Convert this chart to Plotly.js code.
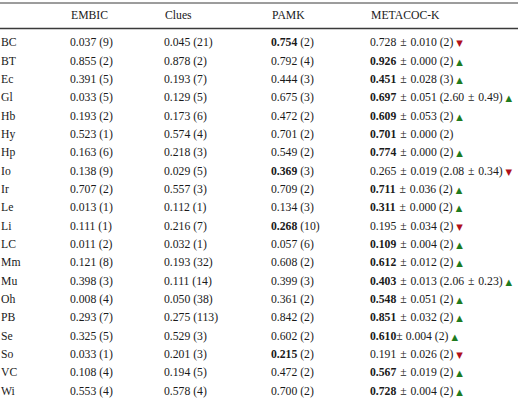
<!DOCTYPE html>
<html>
<head>
<meta charset="utf-8">
<script src="https://cdn.plot.ly/plotly-3.0.1.min.js"></script>
<style>html,body{margin:0;padding:0;background:#fff;}#chart{width:520px;height:406px;}</style>
</head>
<body>
<div id="chart"></div>
<script>
var columns = ['', 'EMBIC', 'Clues', 'PAMK', 'METACOC-K'];
var datasets = ['BC','BT','Ec','Gl','Hb','Hy','Hp','Io','Ir','Le','Li','LC','Mm','Mu','Oh','PB','Se','So','VC','Wi'];
var embic = ['0.037','0.855','0.391','0.033','0.193','0.523','0.163','0.138','0.707','0.013','0.111','0.011','0.121','0.398','0.008','0.293','0.325','0.033','0.108','0.553'];
var embicK = ['9','2','5','5','2','1','6','9','2','1','1','2','8','3','4','7','5','1','4','4'];
var clues = ['0.045','0.878','0.193','0.129','0.173','0.574','0.218','0.029','0.557','0.112','0.216','0.032','0.193','0.111','0.050','0.275','0.529','0.201','0.194','0.578'];
var cluesK = ['21','2','7','5','6','4','3','5','3','1','7','1','32','14','38','113','3','3','5','4'];
var pamk = ['0.754','0.792','0.444','0.675','0.472','0.701','0.549','0.369','0.709','0.134','0.268','0.057','0.608','0.399','0.361','0.842','0.602','0.215','0.472','0.700'];
var pamkK = ['2','4','3','3','2','2','2','3','2','3','10','6','2','3','2','2','2','2','2','2'];
var pamkBest = [1,0,0,0,0,0,0,1,0,0,1,0,0,0,0,0,0,1,0,0];
var metacoc = ['0.728','0.926','0.451','0.697','0.609','0.701','0.774','0.265','0.711','0.311','0.195','0.109','0.612','0.403','0.548','0.851','0.610','0.191','0.567','0.728'];
var metacocSd = ['0.010','0.000','0.028','0.051','0.053','0.000','0.000','0.019','0.036','0.000','0.034','0.004','0.012','0.013','0.051','0.032','0.004','0.026','0.019','0.004'];
var metacocKMean = ['2','2','3','2.60','2','2','2','2.08','2','2','2','2','2','2.06','2','2','2','2','2','2'];
var metacocKSd = ['','','','0.49','','','','0.34','','','','','','0.23','','','','','',''];
var metacocBest = [0,1,1,1,1,1,1,0,1,1,0,1,1,1,1,1,1,0,1,1];
var trend = ['down','up','up','up','up','','up','down','up','up','down','up','up','up','up','up','up','down','up','up'];

var PM = '\u2004\u00B1\u2004';
var UP = '<span style="color:#1e7b1e;font-size:8.5px;font-family:DejaVu Sans">\u25B2</span>';
var DOWN = '<span style="color:#b0101a;font-size:8.5px;font-family:DejaVu Sans">\u25BC</span>';

function fmt(v, k) { return v + ' (' + k + ')'; }
function bold(v, b) { return b ? '<b>' + v + '</b>' : v; }

var colLabels = datasets.slice();
var colEmbic = embic.map(function (v, i) { return fmt(v, embicK[i]); });
var colClues = clues.map(function (v, i) { return fmt(v, cluesK[i]); });
var colPamk = pamk.map(function (v, i) { return bold(v, pamkBest[i]) + ' (' + pamkK[i] + ')'; });
var colMeta = metacoc.map(function (v, i) {
  var sep = datasets[i] === 'Se' ? '\u00B1 ' : PM;
  var k = metacocKMean[i] + (metacocKSd[i] ? PM + metacocKSd[i] : '');
  var s = bold(v, metacocBest[i]) + sep + metacocSd[i] + ' (' + k + ')';
  if (trend[i] === 'up') s += ' ' + UP;
  else if (trend[i] === 'down') s += ' ' + DOWN;
  return s;
});
var columnTexts = [colLabels, colEmbic, colClues, colPamk, colMeta];

// column left edges in pixels (layout only)
var W = 520, H = 406;
var colLeft = [1, 70, 164, 271, 370, 520];
var rowTop = 43.5, rowStep = 18.33, headerY = 15;

var font = {family: 'Liberation Serif, Times New Roman, serif', size: 11.7, color: '#1a1a1a'};

var traces = [];
var layout = {
  width: W,
  height: H,
  margin: {l: 0, r: 0, t: 0, b: 0, pad: 0},
  paper_bgcolor: '#ffffff',
  plot_bgcolor: '#ffffff',
  showlegend: false,
  font: font,
  yaxis: {
    type: 'category',
    categoryorder: 'array',
    categoryarray: datasets,
    range: [(H - rowTop) / rowStep, -rowTop / rowStep],
    domain: [0, 1],
    visible: false,
    fixedrange: true
  },
  annotations: [],
  shapes: [
    {type: 'line', xref: 'paper', yref: 'paper', x0: 0, x1: 518 / W, y0: 1 - 3 / H, y1: 1 - 3 / H, line: {color: '#3a3a3a', width: 1}},
    {type: 'line', xref: 'paper', yref: 'paper', x0: 0, x1: 518 / W, y0: 1 - 28.5 / H, y1: 1 - 28.5 / H, line: {color: '#3a3a3a', width: 1.6}}
  ]
};

columns.forEach(function (name, c) {
  var ax = c === 0 ? 'x' : 'x' + (c + 1);
  var axKey = c === 0 ? 'xaxis' : 'xaxis' + (c + 1);
  var catName = name === '' ? 'Dataset' : name;
  traces.push({
    type: 'scatter',
    mode: 'text',
    xaxis: ax,
    yaxis: 'y',
    x: datasets.map(function () { return catName; }),
    y: datasets,
    text: columnTexts[c],
    textposition: 'middle right',
    textfont: font,
    hoverinfo: 'skip',
    cliponaxis: false
  });
  layout[axKey] = {
    type: 'category',
    domain: [colLeft[c] / W, colLeft[c + 1] / W],
    range: [0, 1],
    visible: false,
    fixedrange: true,
    anchor: 'y'
  };
  if (name !== '') {
    layout.annotations.push({
      xref: ax + ' domain', yref: 'paper',
      x: 0, y: 1 - headerY / H,
      xanchor: 'left', yanchor: 'middle',
      text: name, showarrow: false,
      borderpad: 0, font: font
    });
  }
});

Plotly.newPlot('chart', traces, layout, {displayModeBar: false, staticPlot: true});
</script>
</body>
</html>
